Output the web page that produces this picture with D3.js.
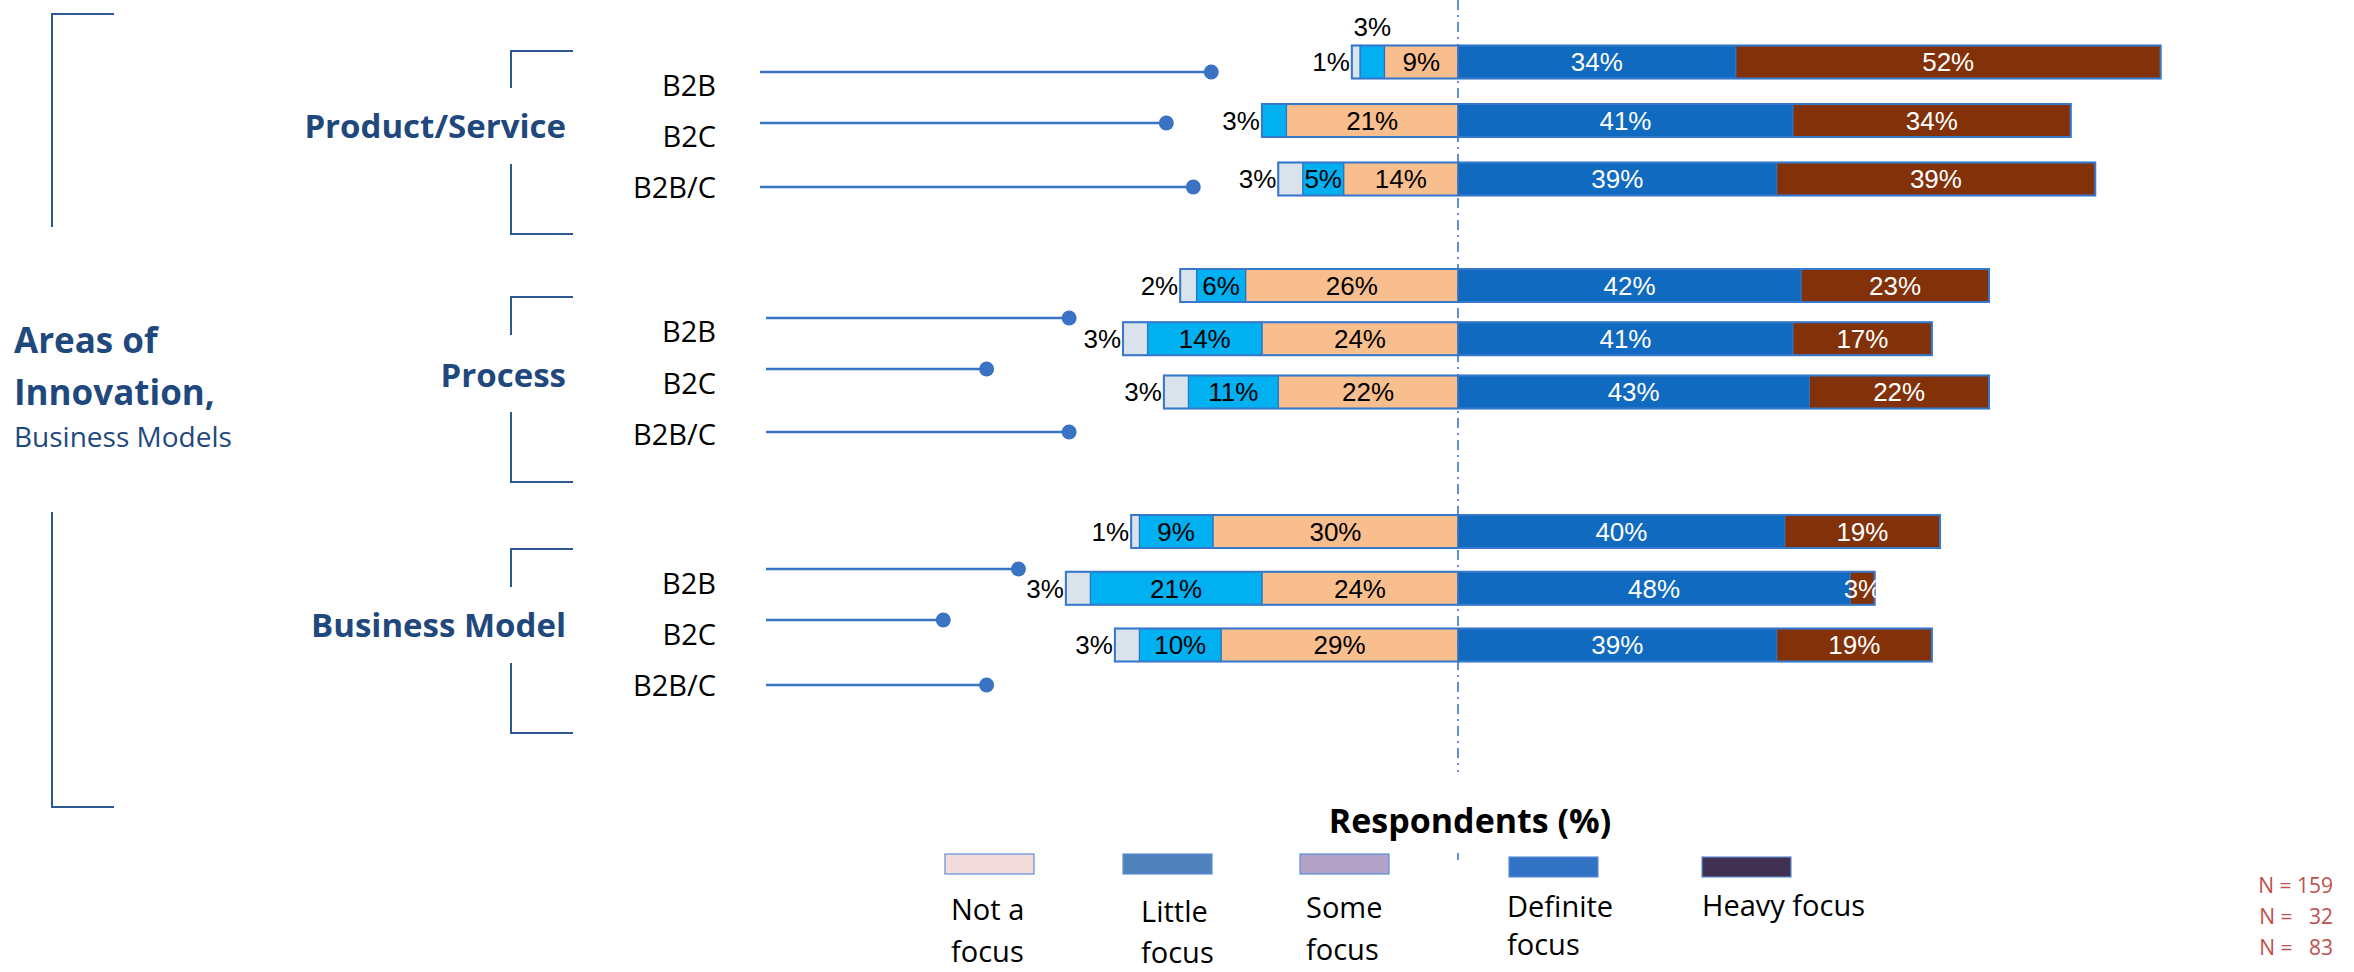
<!DOCTYPE html>
<html>
<head>
<meta charset="utf-8">
<script src="https://cdn.jsdelivr.net/npm/d3@7"></script>
<style>
  html, body { margin: 0; padding: 0; background: #fff; }
  svg { display: block; }
</style>
</head>
<body>
<svg id="chart" width="2354" height="972"></svg>
<script>
// ---- data ----
const groups = ["Product/Service", "Process", "Business Model"];
const segments = ["B2B", "B2C", "B2B/C"];
const levelNames = ["Not a focus", "Little focus", "Some focus", "Definite focus", "Heavy focus"];
const legendLines = [["Not a", "focus"], ["Little", "focus"], ["Some", "focus"], ["Definite", "focus"], ["Heavy focus"]];

// one entry per row: Product/Service B2B, B2C, B2B/C, Process ..., Business Model ...
const notFocus      = [1, 0, 3,   2, 3, 3,    1, 3, 3];
const littleFocus   = [3, 3, 5,   6, 14, 11,  9, 21, 10];
const someFocus     = [9, 21, 14, 26, 24, 22, 30, 24, 29];
const definiteFocus = [34, 41, 39, 42, 41, 43, 40, 48, 39];
const heavyFocus    = [52, 34, 39, 23, 17, 22, 19, 3, 19];

// end points of the connector lines, on the same percent axis
const leaderEnds = [-30.2, -35.7, -32.4, -47.6, -57.7, -47.6, -53.8, -63.0, -57.7];

const sampleSizes = ["159", "  32", "  83"];

// ---- styles ----
const fills = {
  notFocus: "#DAE3EC",
  littleFocus: "#00B0F0",
  someFocus: "#F9BE8E",
  definiteFocus: "#0F6AC0",
  heavyFocus: "#823109"
};
const labelColor = {
  notFocus: "#000", littleFocus: "#000", someFocus: "#000",
  definiteFocus: "#fff", heavyFocus: "#fff"
};
const legendFills = ["#F2DCDB", "#4F81BD", "#B3A2C7", "#3272C4", "#403151"];
const navy = "#1F497D";
const bracketColor = "#2D5791";
const leaderColor = "#3A72C4";
const txtFont = "'Open Sans', 'Noto Sans', sans-serif";
const numFont = "'Liberation Sans', Arial, sans-serif";

// ---- layout ----
const zeroX = 1458;
const barH = 33;
const rowRanges   = [[62, 179], [285.5, 392], [531.5, 645]];
const labelRanges = [[96, 198], [342, 445], [594, 696]];
const leaderRows  = [[72, 123, 187], [318, 369, 432], [569, 620, 685]];
const leaderStart = [760, 766, 766];
const groupLabelY = [138, 387, 637];
const bracketSpans = [[51, 88, 164, 234], [297, 335, 412, 482], [549, 587, 663, 733]];

const svg = d3.select("#chart");

const x = d3.scaleLinear().domain([0, 100]).range([zeroX, zeroX + 817]);

// rows as objects; the three left-side levels are negated so they stack leftwards
const rows = groups.flatMap((g, gi) => segments.map((s, si) => {
  const i = gi * 3 + si;
  return {
    group: g, gi, seg: s, si, i,
    notFocus: -notFocus[i], littleFocus: -littleFocus[i], someFocus: -someFocus[i],
    definiteFocus: definiteFocus[i], heavyFocus: heavyFocus[i]
  };
}));

const stack = d3.stack()
  .keys(["someFocus", "littleFocus", "notFocus", "definiteFocus", "heavyFocus"])
  .offset(d3.stackOffsetDiverging);
const series = stack(rows);

const yScales = rowRanges.map(r => d3.scalePoint().domain(segments).range(r));
const labelScales = labelRanges.map(r => d3.scalePoint().domain(segments).range(r));
const rowY = d => yScales[d.gi](d.seg);

// ---- left side brackets and titles ----
const br = svg.append("g").attr("fill", "none").attr("stroke", bracketColor).attr("stroke-width", 2);
br.append("path").attr("d", `M114,14 H52 V227`);
br.append("path").attr("d", `M52,512 V807 H114`);
bracketSpans.forEach(b => {
  br.append("path").attr("d", `M573,${b[0]} H511 V${b[1]}`);
  br.append("path").attr("d", `M511,${b[2]} V${b[3]} H573`);
});

const title = svg.append("g").attr("fill", navy).attr("font-family", txtFont);
title.append("text").attr("x", 14).attr("y", 353).attr("font-size", 35).attr("font-weight", 700).text("Areas of");
title.append("text").attr("x", 14).attr("y", 405).attr("font-size", 35).attr("font-weight", 700).text("Innovation,");
title.append("text").attr("x", 14).attr("y", 447).attr("font-size", 28).text("Business Models");

groups.forEach((g, gi) => {
  svg.append("text")
    .attr("x", 566).attr("y", groupLabelY[gi])
    .attr("text-anchor", "end")
    .attr("font-family", txtFont).attr("font-size", 33).attr("font-weight", 700)
    .attr("fill", navy).text(g);
  segments.forEach(s => {
    svg.append("text")
      .attr("x", 716).attr("y", labelScales[gi](s))
      .attr("text-anchor", "end")
      .attr("font-family", txtFont).attr("font-size", 29)
      .attr("fill", "#000").text(s);
  });
});

// connector lines with end dots
const leaders = svg.append("g");
rows.forEach(d => {
  const ly = leaderRows[d.gi][d.si];
  leaders.append("line")
    .attr("x1", leaderStart[d.gi]).attr("x2", x(leaderEnds[d.i]))
    .attr("y1", ly).attr("y2", ly)
    .attr("stroke", leaderColor).attr("stroke-width", 2.5);
  leaders.append("circle")
    .attr("cx", x(leaderEnds[d.i])).attr("cy", ly).attr("r", 7.5)
    .attr("fill", leaderColor);
});

// ---- bars ----
const bars = svg.append("g");
series.forEach(layer => {
  bars.append("g").selectAll("rect")
    .data(layer.filter(p => p[1] !== p[0]))
    .join("rect")
    .attr("x", p => x(Math.min(p[0], p[1])))
    .attr("width", p => Math.abs(x(p[1]) - x(p[0])))
    .attr("y", p => rowY(p.data) - barH / 2)
    .attr("height", barH)
    .attr("fill", fills[layer.key])
    .attr("stroke", "#2E72C2")
    .attr("stroke-width", 1.2);
});

// outline around each whole bar
const extent = rows.map(d => {
  let lo = 0, hi = 0;
  series.forEach(layer => {
    const p = layer[d.i];
    lo = Math.min(lo, p[0], p[1]);
    hi = Math.max(hi, p[0], p[1]);
  });
  return [lo, hi];
});
bars.selectAll("rect.outline")
  .data(rows)
  .join("rect")
  .attr("class", "outline")
  .attr("x", d => x(extent[d.i][0]))
  .attr("width", d => x(extent[d.i][1]) - x(extent[d.i][0]))
  .attr("y", d => rowY(d) - barH / 2)
  .attr("height", barH)
  .attr("fill", "none")
  .attr("stroke", "#3878CC")
  .attr("stroke-width", 2);

// value labels
const labels = svg.append("g").attr("font-family", numFont).attr("font-size", 26);
series.forEach(layer => {
  layer.forEach(p => {
    const d = p.data;
    const v = Math.abs(p[1] - p[0]);
    if (v === 0) return;
    const a = x(Math.min(p[0], p[1])), b = x(Math.max(p[0], p[1]));
    const w = b - a;
    const cy = rowY(d);
    const barLeft = x(extent[d.i][0]);
    let tx = (a + b) / 2, ty = cy, anchor = "middle";
    if (layer.key === "notFocus") {
      tx = barLeft - 2; anchor = "end";
    } else if (layer.key === "littleFocus" && w < 30) {
      if (d.notFocus === 0) { tx = barLeft - 2; anchor = "end"; }
      else { ty = cy - barH / 2 - 19; }
    }
    labels.append("text")
      .attr("x", tx).attr("y", ty).attr("dy", "0.36em")
      .attr("text-anchor", anchor)
      .attr("fill", labelColor[layer.key])
      .text(v + "%");
  });
});

// zero reference line
const zl = svg.append("g").attr("stroke", "#3F73C6").attr("stroke-width", 1.6)
  .attr("stroke-dasharray", "10,5,2,5");
zl.append("line").attr("x1", x(0)).attr("x2", x(0)).attr("y1", 0).attr("y2", 772);
zl.append("line").attr("x1", x(0)).attr("x2", x(0)).attr("y1", 853).attr("y2", 860)
  .attr("stroke-dasharray", null);

// ---- axis title and legend ----
svg.append("text")
  .attr("x", 1470).attr("y", 833)
  .attr("text-anchor", "middle")
  .attr("font-family", txtFont).attr("font-size", 34).attr("font-weight", 700)
  .attr("fill", "#000").text("Respondents (%)");

const legendX = [945, 1123, 1300, 1509, 1702];
const legendSwY = [854, 854, 854, 857, 857];
const legendTextX = [951, 1141, 1306, 1507, 1702];
const legendTextY = [[920, 962], [922, 963], [918, 960], [917, 955], [916]];
const lg = svg.append("g");
levelNames.forEach((name, k) => {
  lg.append("rect")
    .attr("x", legendX[k]).attr("y", legendSwY[k])
    .attr("width", 89).attr("height", 20)
    .attr("fill", legendFills[k])
    .attr("stroke", "#5B8FD6").attr("stroke-width", 1.2)
    .append("title").text(name);
  legendLines[k].forEach((line, j) => {
    lg.append("text")
      .attr("x", legendTextX[k]).attr("y", legendTextY[k][j])
      .attr("font-family", txtFont).attr("font-size", 29)
      .attr("fill", "#000").text(line);
  });
});

// sample sizes
sampleSizes.forEach((n, k) => {
  svg.append("text")
    .attr("x", 2333).attr("y", 893 + k * 31)
    .attr("text-anchor", "end")
    .attr("font-family", txtFont).attr("font-size", 21)
    .attr("fill", "#C0504D")
    .style("white-space", "pre")
    .text("N = " + n);
});
</script>
</body>
</html>
